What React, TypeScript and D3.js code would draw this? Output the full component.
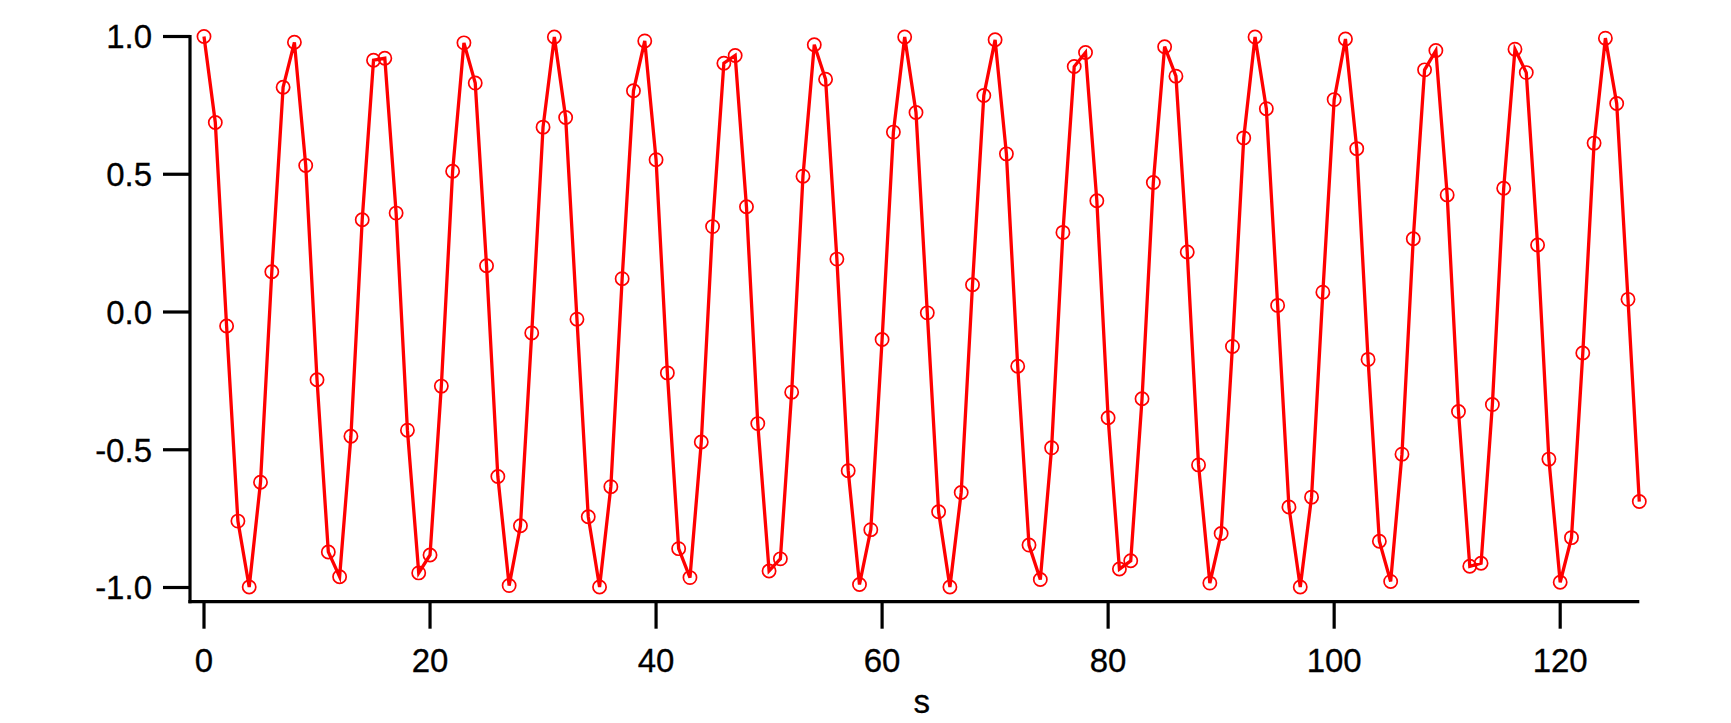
import React from "react";
import * as d3 from "d3";

const sIndex: number[] = Array.from({ length: 128 }, (_, i) => i);
const values: number[] = [
  1.0, 0.688, -0.051, -0.759, -0.998, -0.618, 0.146, 0.816, 0.979, 0.532,
  -0.246, -0.871, -0.961, -0.451, 0.335, 0.914, 0.921, 0.359, -0.429, -0.947,
  -0.882, -0.269, 0.511, 0.977, 0.831, 0.168, -0.597, -0.993, -0.776, -0.076,
  0.671, 0.998, 0.706, -0.026, -0.743, -0.998, -0.634, 0.121, 0.803, 0.984,
  0.553, -0.221, -0.859, -0.964, -0.472, 0.31, 0.903, 0.931, 0.382, -0.405,
  -0.94, -0.896, -0.291, 0.493, 0.97, 0.845, 0.192, -0.576, -0.989, -0.79,
  -0.1, 0.653, 0.998, 0.724, -0.003, -0.725, -0.998, -0.655, 0.099, 0.786,
  0.988, 0.574, -0.197, -0.846, -0.971, -0.493, 0.289, 0.891, 0.942, 0.404,
  -0.384, -0.933, -0.903, -0.315, 0.47, 0.963, 0.856, 0.218, -0.555, -0.984,
  -0.804, -0.125, 0.632, 0.998, 0.738, 0.024, -0.708, -0.998, -0.672, 0.072,
  0.771, 0.991, 0.593, -0.172, -0.832, -0.978, -0.516, 0.266, 0.879, 0.949,
  0.425, -0.361, -0.923, -0.912, -0.336, 0.449, 0.954, 0.869, 0.243, -0.534,
  -0.981, -0.819, -0.149, 0.613, 0.994, 0.757, 0.046, -0.688,
];
const xTicks: number[] = [0, 20, 40, 60, 80, 100, 120];
const yTicks: number[] = [1.0, 0.5, 0.0, -0.5, -1.0];
const yTickLabels: string[] = ["1.0", "0.5", "0.0", "-0.5", "-1.0"];
const xLabel = "s";

const W = 1731;
const H = 723;
const FONT = "'Liberation Sans', Arial, Helvetica, sans-serif";
const FS = 33;
const RED = "#ff0000";

export default function App() {
  const x = d3.scaleLinear().domain([0, 127]).range([204, 1639.3]);
  const y = d3.scaleLinear().domain([-1, 1]).range([587.5, 36.5]);
  const axisX = 190;
  const axisY = 601.7;
  const tickLen = 27;

  const pts = sIndex.map((s, i) => [s, values[i]] as [number, number]);
  const line = d3
    .line<[number, number]>()
    .x((d) => x(d[0]))
    .y((d) => y(d[1]));

  return (
    <svg
      width={W}
      height={H}
      style={{ position: "absolute", left: 0, top: 0, background: "#fff" }}
    >
      <rect x={0} y={0} width={W} height={H} fill="#fff" />
      <line x1={axisX} x2={axisX} y1={y(1) - 1.6} y2={axisY + 1.6} stroke="#000" strokeWidth={3.2} />
      {yTicks.map((t, i) => (
        <g key={"yt" + i}>
          <line x1={axisX - tickLen} x2={axisX} y1={y(t)} y2={y(t)} stroke="#000" strokeWidth={3.2} />
          <text
            x={152}
            y={y(t) + 11.8}
            textAnchor="end"
            fontFamily={FONT}
            fontSize={FS}
            fill="#000"
            stroke="#000"
            strokeWidth={0.3}
          >
            {yTickLabels[i]}
          </text>
        </g>
      ))}
      <line x1={axisX - 1.6} x2={x(127)} y1={axisY} y2={axisY} stroke="#000" strokeWidth={3.2} />
      {xTicks.map((t, i) => (
        <g key={"xt" + i}>
          <line x1={x(t)} x2={x(t)} y1={axisY} y2={axisY + tickLen} stroke="#000" strokeWidth={3.2} />
          <text
            x={x(t)}
            y={672}
            textAnchor="middle"
            fontFamily={FONT}
            fontSize={FS}
            fill="#000"
            stroke="#000"
            strokeWidth={0.3}
          >
            {String(t)}
          </text>
        </g>
      ))}
      <text
        x={x(63.5)}
        y={713}
        textAnchor="middle"
        fontFamily={FONT}
        fontSize={FS}
        fill="#000"
        stroke="#000"
        strokeWidth={0.3}
      >
        {xLabel}
      </text>
      <path d={line(pts) || ""} fill="none" stroke={RED} strokeWidth={3.3} strokeLinejoin="miter" />
      {pts.map((d, i) => (
        <circle
          key={"p" + i}
          cx={x(d[0])}
          cy={y(d[1])}
          r={6.6}
          fill="none"
          stroke={RED}
          strokeWidth={1.7}
        />
      ))}
    </svg>
  );
}
